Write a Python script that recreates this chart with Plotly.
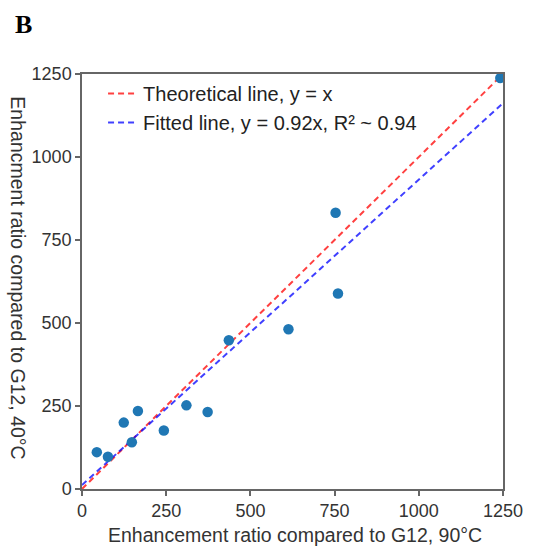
import plotly.graph_objects as go

x_vals = [44, 77, 124, 148, 166, 243, 310, 373, 436, 613, 753, 760, 1242]
y_vals = [111, 97, 200, 141, 235, 176, 252, 232, 448, 481, 832, 589, 1238]
line_x = [0, 1250]
fit_slope = 0.92
fit_intercept = 12
x_ticks = [0, 250, 500, 750, 1000, 1250]
y_ticks = [0, 250, 500, 750, 1000, 1250]

FONT = "Liberation Sans, Arial, sans-serif"
fig = go.Figure()
fig.add_trace(go.Scatter(x=line_x, y=line_x, mode="lines",
                         line=dict(color="rgba(255,0,0,0.75)", width=2, dash="6px,4px"),
                         name="Theoretical line, y = x"))
fig.add_trace(go.Scatter(x=line_x, y=[fit_slope * v + fit_intercept for v in line_x], mode="lines",
                         line=dict(color="rgba(0,0,255,0.75)", width=2, dash="6px,4px"),
                         name="Fitted line, y = 0.92x, R² ~ 0.94"))
fig.add_trace(go.Scatter(x=x_vals, y=y_vals, mode="markers",
                         marker=dict(color="#1f77b4", size=10.5), showlegend=False,
                         cliponaxis=True))

axis_common = dict(showline=True, mirror=True, linecolor="#666", linewidth=1.5,
                   ticks="outside", ticklen=5, tickcolor="#666", tickwidth=1.5,
                   showgrid=False, zeroline=False,
                   tickfont=dict(family=FONT, size=18, color="#333"))
fig.update_xaxes(range=[0, 1250], tickvals=x_ticks, **axis_common)
fig.update_yaxes(range=[0, 1250], tickvals=y_ticks, **axis_common)

fig.update_layout(
    width=535, height=548,
    margin=dict(l=82, r=26, t=74, b=59),
    plot_bgcolor="white", paper_bgcolor="white",
    legend=dict(x=0.05, y=1.0, xanchor="left", yanchor="top",
                bgcolor="rgba(255,255,255,0)", font=dict(family=FONT, size=20, color="#222"),
                itemwidth=30, tracegroupgap=0),
    annotations=[
        dict(text="<b>B</b>", xref="paper", yref="paper", x=-0.165, y=1.158,
             xanchor="left", yanchor="top", showarrow=False,
             font=dict(family="Liberation Serif, Times New Roman, serif", size=26, color="black")),
        dict(text="Enhancement ratio compared to G12, 90°C", xref="paper", yref="paper",
             x=0.505, y=-0.111, xanchor="center", yanchor="middle", showarrow=False,
             font=dict(family=FONT, size=19.5, color="#333")),
        dict(text="Enhancment ratio compared to G12, 40°C", xref="paper", yref="paper",
             x=-0.152, y=0.51, xanchor="center", yanchor="middle", showarrow=False,
             textangle=90, font=dict(family=FONT, size=19.5, color="#333")),
    ],
)
fig.write_html("out.html")
